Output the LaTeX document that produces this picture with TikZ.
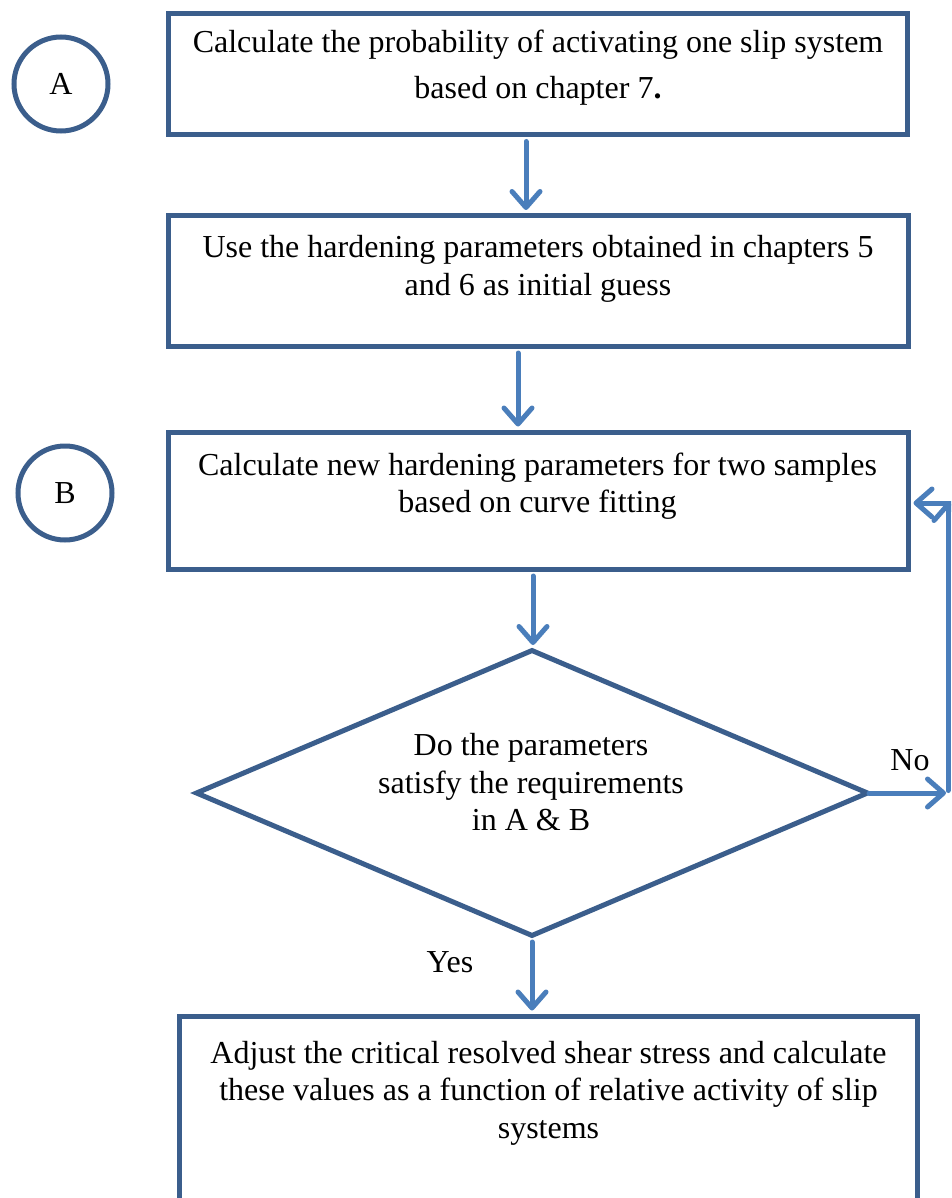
\documentclass[tikz,border=0pt]{standalone}
\usepackage{fontspec}
\setmainfont{Liberation Serif}
\usetikzlibrary{arrows.meta,shapes.geometric}
\definecolor{boxblue}{RGB}{59,94,140}
\definecolor{arrowblue}{RGB}{74,126,187}
\begin{document}
\begin{tikzpicture}[x=1pt,y=-1pt,
  stepbox/.style={draw=boxblue,line width=5pt,rectangle,inner sep=0pt},
  decision/.style={draw=boxblue,line width=5pt,diamond,inner sep=0pt},
  marker/.style={draw=boxblue,line width=5pt,circle,inner sep=0pt,minimum size=94pt},
  label/.style={align=center,font=\fontsize{32}{37.5}\selectfont,inner sep=0pt},
  flow/.style={draw=arrowblue,line width=5pt,line cap=round,
    -{Straight Barb[length=16pt,width=28pt,line width=5pt,round]}}
]
\clip (0,0) rectangle (951,1198);
\fill[white] (0,0) rectangle (951,1198);

% process boxes
\node[stepbox,minimum width=739.5pt,minimum height=121.5pt] (b1) at (537.75,74.25) {};
\node[stepbox,minimum width=739.5pt,minimum height=131pt] (b2) at (538.25,281) {};
\node[stepbox,minimum width=740pt,minimum height=137.5pt] (b3) at (538,500.75) {};
\node[decision,minimum width=673pt,minimum height=287pt] (d) at (532,793) {};
\node[stepbox,minimum width=738.5pt,minimum height=260pt,anchor=north] (b4) at (548.25,1013.5) {};

% marker circles
\node[marker,label] (ca) at (61,84) {A};
\node[marker,label] (cb) at (65,493) {B};

% box texts
\node[label] (t1) at (538,67.5) {Calculate the probability of activating one slip system\\[8pt]based on chapter 7{\bfseries .}};
\node[label] (t2) at (538,269) {Use the hardening parameters obtained in chapters 5\\and 6 as initial guess};
\node[label] (t3) at (537.5,486) {Calculate new hardening parameters for two samples\\based on curve fitting};
\node[label] (t4) at (531,782.5) {Do the parameters\\satisfy the requirements\\in A \& B};
\node[label] (t5) at (548.5,1093) {Adjust the critical resolved shear stress and calculate\\these values as a function of relative activity of slip\\systems};

% main flow
\draw[flow] ([xshift=-11.75pt,yshift=-4pt]b1.south) -- ([xshift=-12.25pt,yshift=3pt]b2.north);
\draw[flow] ([xshift=-20.25pt,yshift=-4pt]b2.south) -- ([xshift=-20pt,yshift=3pt]b3.north);
\draw[flow] ([xshift=-5pt,yshift=-4pt]b3.south) -- ([xshift=1pt,yshift=2pt]d.north);
\draw[flow] ([yshift=-3pt]d.south) -- ([xshift=-16.25pt,yshift=3pt]b4.north);

% loop back on "No"
\coordinate (c1) at (948,793);
\coordinate (c2) at (948,503);
\draw[flow] ([xshift=-2pt]d.east) -- ([xshift=-2pt]c1);
\draw[flow] ([yshift=2.5pt]c1) -- ([yshift=1pt]c2);
\draw[flow] ([xshift=2.5pt]c2) -- ([xshift=3pt]c2 -| b3.east);

% branch labels
\node[label] (no) at (910,760) {No};
\node[label] (yes) at (450,962) {Yes};
\end{tikzpicture}
\end{document}
